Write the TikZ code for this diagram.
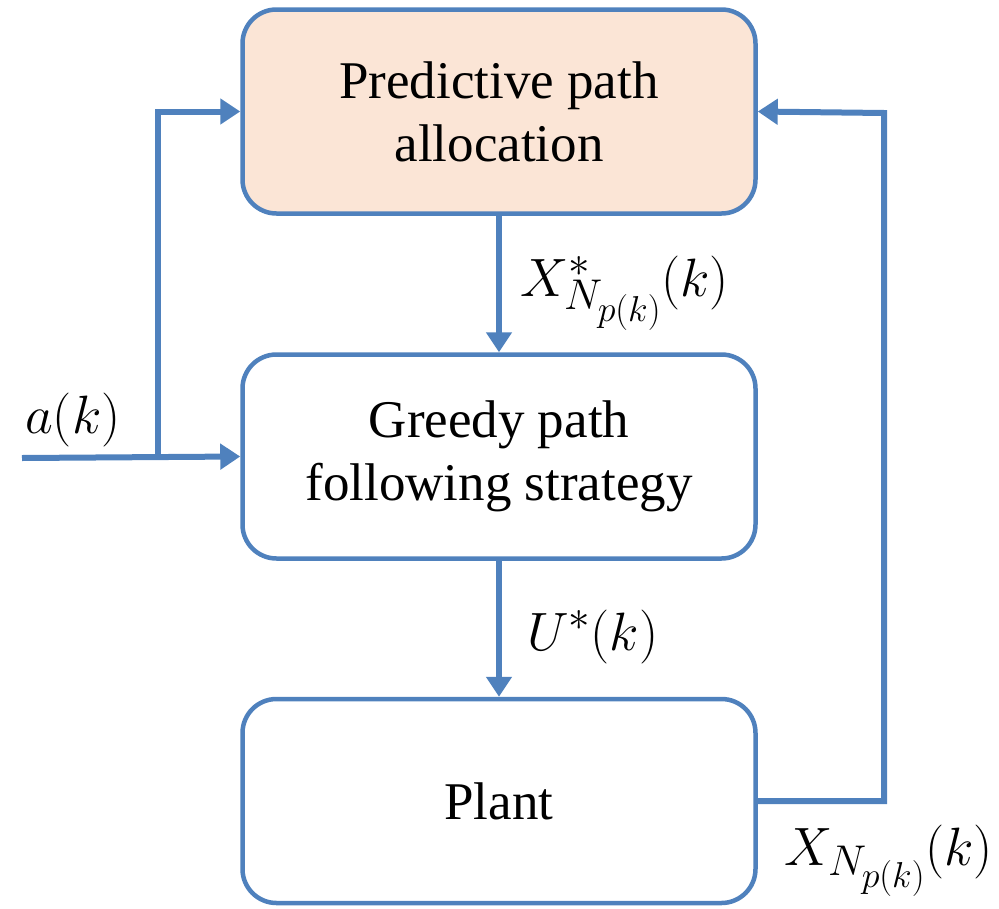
\documentclass[tikz,border=0pt]{standalone}
\usepackage{fix-cm}
\usepackage{fontspec}
\setmainfont{Liberation Serif}
\DeclareMathSizes{54}{54}{43}{36}
\usetikzlibrary{arrows.meta}
\definecolor{lblue}{HTML}{4F81BD}
\definecolor{peach}{HTML}{FBE5D6}
\tikzset{
  blk/.style={draw=lblue, line width=4.5pt, rounded corners=34pt, minimum width=513pt, minimum height=204pt, align=center, font=\fontsize{53}{63}\selectfont, inner sep=0pt},
  conn/.style={draw=lblue, line width=6pt},
  arr/.style={conn, -{Triangle[length=20pt,width=25pt]}},
  lbl/.style={anchor=base west, inner sep=0pt, font=\fontsize{54}{60}\selectfont}
}
\begin{document}
\begin{tikzpicture}[x=1pt,y=-1pt]
\useasboundingbox (0,0) rectangle (999,908);
\node[blk, fill=peach] (top) at (499,111.5) {Predictive path\\allocation};
\node[blk] (mid) at (499,456.5) {Greedy path\\following strategy};
\node[blk] (bot) at (499,801) {Plant};
\draw[arr] (top.south) -- (mid.north);
\draw[arr] (mid.south) -- (bot.north);
\coordinate (ain) at (22,458);
\coordinate (j) at (158,458);
\coordinate (rc) at (884,113);
\draw[arr] (ain) -- (mid.west);
\draw[arr] (j) |- (top.west);
\draw[arr] (bot.east) -| (rc) -- (top.east);
\node[lbl] (l1) at (520,296) {$X^{*}_{N_{p(k)}}(k)$};
\node[lbl] (l2) at (527,650) {$U^{*}(k)$};
\node[lbl] (l3) at (25,433) {$a(k)$};
\node[lbl] (l4) at (784,865) {$X_{N_{p(k)}}(k)$};
\end{tikzpicture}
\end{document}
